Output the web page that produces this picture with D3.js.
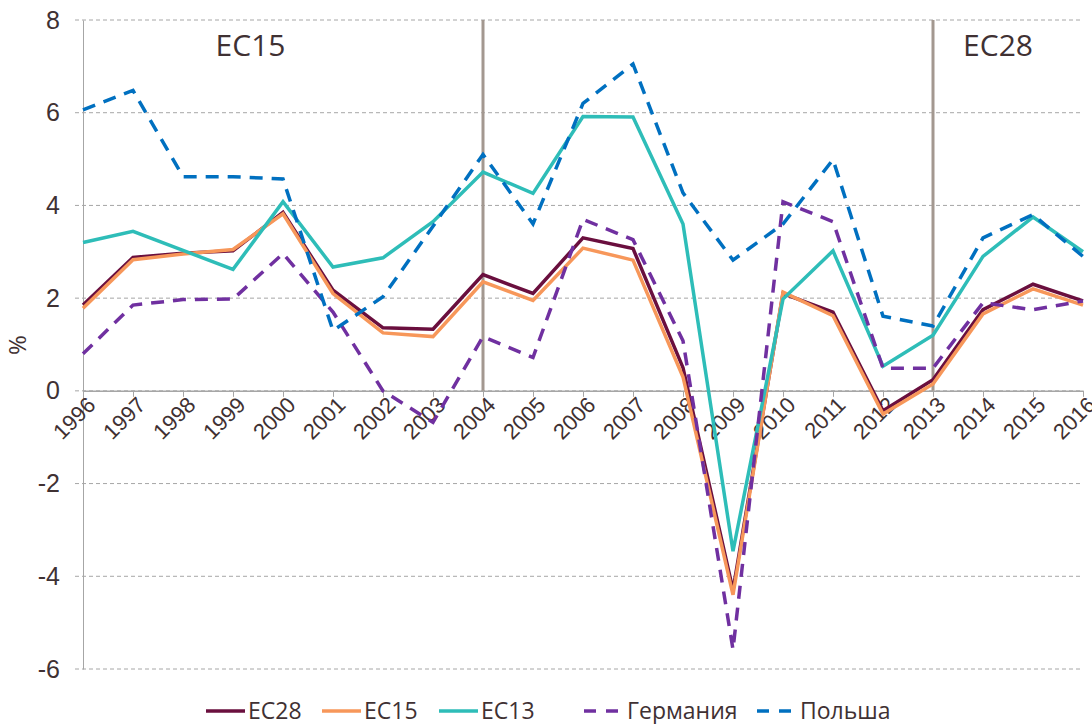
<!DOCTYPE html>
<html>
<head>
<meta charset="utf-8">
<script src="https://cdn.jsdelivr.net/npm/d3@7"></script>
<style>
  body { margin: 0; background: #fff; }
  svg { font-family: "Open Sans", "DejaVu Sans", sans-serif; }
  .grid line { stroke: #a6a6a6; stroke-dasharray: 4,3; }
  .tick text { fill: #3f3133; }
</style>
</head>
<body>
<svg width="1092" height="724"></svg>
<script>
const width = 1092;
const height = 724;

const years = d3.range(1996, 2017);
const ec28 = [1.85, 2.88, 2.97, 3.02, 3.85, 2.17, 1.36, 1.33, 2.51, 2.1, 3.3, 3.07, 0.5, -4.3, 2.1, 1.7, -0.43, 0.24, 1.75, 2.3, 1.94];
const ec15 = [1.78, 2.83, 2.95, 3.05, 3.82, 2.1, 1.25, 1.17, 2.35, 1.95, 3.08, 2.82, 0.3, -4.4, 2.13, 1.62, -0.5, 0.15, 1.66, 2.2, 1.85];
const ec13 = [3.2, 3.44, 3.03, 2.62, 4.08, 2.67, 2.87, 3.65, 4.72, 4.26, 5.92, 5.91, 3.6, -3.46, 1.98, 3.02, 0.53, 1.2, 2.9, 3.75, 3.0];
const germany = [0.8, 1.85, 1.97, 1.98, 2.96, 1.7, 0.0, -0.68, 1.17, 0.72, 3.7, 3.26, 1.08, -5.58, 4.08, 3.65, 0.49, 0.49, 1.9, 1.75, 1.94];
const poland = [6.06, 6.48, 4.62, 4.62, 4.57, 1.3, 2.03, 3.55, 5.1, 3.6, 6.2, 7.05, 4.27, 2.82, 3.6, 4.99, 1.61, 1.4, 3.3, 3.8, 2.9];
const yTicks = [-6, -4, -2, 0, 2, 4, 6, 8];
const periodLines = [2004, 2013];
const periodLabels = [{ year: 1999.35, text: 'EC15' }, { year: 2014.3, text: 'EC28' }];

const series = [
    { name: 'EC28', values: ec28, color: '#6a0f3e', dash: null },
    { name: 'EC15', values: ec15, color: '#f7975a', dash: null },
    { name: 'EC13', values: ec13, color: '#2ebdb8', dash: null },
    { name: 'Германия', values: germany, color: '#7030a0', dash: '13,9' },
    { name: 'Польша', values: poland, color: '#0070c0', dash: '13,9' }
];

const margin = { top: 20, right: 9, bottom: 55, left: 83 };
const innerWidth = width - margin.left - margin.right;
const innerHeight = 669 - margin.top;

const svg = d3.select('svg');
const g = svg.append('g')
    .attr('transform', 'translate(' + margin.left + ', ' + margin.top + ')');

const xScale = d3.scaleLinear()
    .domain([1996, 2016])
    .range([0, 1000]);

const yScale = d3.scaleLinear()
    .domain([-6, 8])
    .range([innerHeight, 0]);

// horizontal grid
g.append('g').attr('class', 'grid')
    .selectAll('line')
    .data(yTicks)
    .enter()
    .append('line')
    .attr('x1', -8)
    .attr('x2', innerWidth)
    .attr('y1', d => yScale(d))
    .attr('y2', d => yScale(d));

// y axis (plain hyphen minus like the original)
const yAxisG = g.append('g')
    .call(d3.axisLeft(yScale).tickValues(yTicks).tickSize(0).tickPadding(23).tickFormat(d => String(d)));
yAxisG.select('.domain').attr('stroke', '#a6a6a6');
yAxisG.selectAll('.tick text').attr('font-size', 25);

// x axis at zero
const xAxisG = g.append('g')
    .attr('transform', 'translate(0, ' + yScale(0) + ')')
    .call(d3.axisBottom(xScale).tickValues(years).tickFormat(d => String(d)).tickSize(6).tickSizeOuter(0));
xAxisG.select('.domain').attr('stroke', '#a6a6a6').attr('stroke-width', 1.5);
xAxisG.selectAll('.tick line').attr('stroke', '#a6a6a6');
xAxisG.selectAll('.tick text')
    .attr('font-size', 22)
    .attr('text-anchor', 'end')
    .attr('dy', 0)
    .attr('transform', 'translate(7, 9) rotate(-45)');

// period separators
g.selectAll('.period')
    .data(periodLines)
    .enter()
    .append('line')
    .attr('x1', d => xScale(d))
    .attr('x2', d => xScale(d))
    .attr('y1', yScale(8))
    .attr('y2', yScale(0))
    .attr('stroke', '#a39890')
    .attr('stroke-width', 3);

g.selectAll('.period-label')
    .data(periodLabels)
    .enter()
    .append('text')
    .attr('x', d => xScale(d.year))
    .attr('y', 36)
    .attr('text-anchor', 'middle')
    .attr('font-size', 30)
    .attr('fill', '#3f3133')
    .text(d => d.text);

// lines
const line = d3.line()
    .x((d, i) => xScale(years[i]))
    .y(d => yScale(d));

g.selectAll('.series')
    .data(series)
    .enter()
    .append('path')
    .attr('d', d => line(d.values))
    .attr('fill', 'none')
    .attr('stroke', d => d.color)
    .attr('stroke-width', 3.5)
    .attr('stroke-dasharray', d => d.dash);

// y title
svg.append('text')
    .attr('transform', 'translate(26, 345) rotate(-90)')
    .attr('text-anchor', 'middle')
    .attr('font-size', 24)
    .attr('fill', '#3f3133')
    .text('%');

// legend
const legendX = [206, 322, 439, 584, 757];
const legend = svg.append('g').attr('transform', 'translate(0, 711)');
const items = legend.selectAll('g')
    .data(series)
    .enter()
    .append('g')
    .attr('transform', (d, i) => 'translate(' + legendX[i] + ', 0)');

items.append('line')
    .attr('x1', 0)
    .attr('x2', d => d.dash ? 34 : 39)
    .attr('y1', 0)
    .attr('y2', 0)
    .attr('stroke', d => d.color)
    .attr('stroke-width', 3.5)
    .attr('stroke-dasharray', d => d.dash ? '12,10' : null);

items.append('text')
    .attr('x', d => d.dash ? 43 : 42)
    .attr('y', 8)
    .attr('font-size', 23)
    .attr('fill', '#3f3133')
    .text(d => d.name);
</script>
</body>
</html>
